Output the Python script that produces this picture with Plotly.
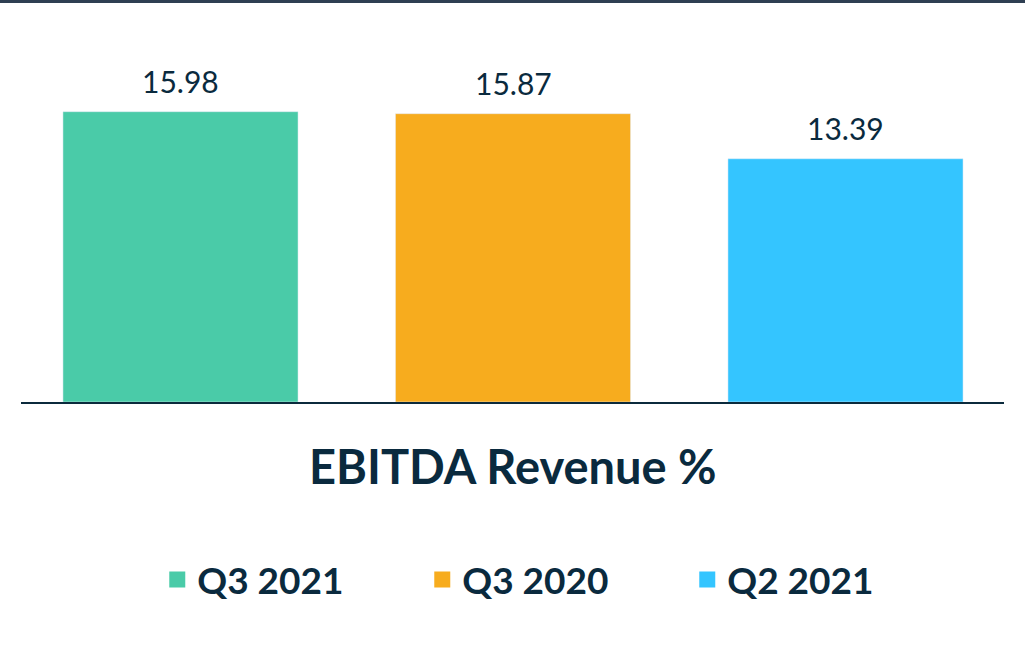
import plotly.graph_objects as go

categories = ["Q3 2021", "Q3 2020", "Q2 2021"]
values = [15.98, 15.87, 13.39]
colors = ["#4ACBA8", "#F7AC1E", "#34C5FF"]
labels = ["15.98", "15.87", "13.39"]
axis_title = "EBITDA Revenue %"

TEXT = "#0A2A3E"
FONT = "Lato"

fig = go.Figure()
for cat, val, col in zip(categories, values, colors):
    fig.add_trace(go.Bar(
        x=[cat], y=[val], name=cat, marker_color=col, width=0.707,
        hoverinfo="skip", showlegend=False,
    ))
# legend entries with larger square swatches
for cat, col in zip(categories, colors):
    fig.add_trace(go.Scatter(
        x=[None], y=[None], mode="markers", name=cat,
        marker=dict(symbol="square", size=21, color=col, line_width=0),
        hoverinfo="skip",
    ))

for cat, val, lab in zip(categories, values, labels):
    fig.add_annotation(x=cat, y=val, text=lab, showarrow=False,
                       yanchor="bottom", yshift=11,
                       font=dict(family=FONT, size=30, color=TEXT))

fig.add_annotation(xref="paper", yref="paper", x=0.5, y=-0.196,
                   text="<b>" + axis_title + "</b>", showarrow=False,
                   yanchor="middle", xanchor="center",
                   font=dict(family=FONT, size=47, color=TEXT))

# top border line
fig.add_shape(type="rect", xref="paper", yref="paper",
              x0=-0.03, x1=1.03, y0=1.220, y1=1.240,
              fillcolor="#2E3F52", line_width=0, layer="above")

fig.update_layout(
    width=1025, height=657,
    margin=dict(l=21, r=21, t=75, b=255),
    paper_bgcolor="white", plot_bgcolor="white",
    barmode="overlay",
    showlegend=True,
    legend=dict(orientation="h", x=0.543, xanchor="center", y=-0.544, yanchor="middle",
                entrywidth=220, entrywidthmode="pixels", itemsizing="trace",
                font=dict(family=FONT, size=37, color=TEXT, weight="bold"),
                itemclick=False, itemdoubleclick=False),
    xaxis=dict(showticklabels=False, ticks="", showgrid=False, zeroline=False,
               showline=True, linecolor="#0B2A3C", linewidth=2,
               range=[-0.4797, 2.4767], fixedrange=True),
    yaxis=dict(visible=False, range=[0, 18], showgrid=False, zeroline=False, fixedrange=True),
)

fig.write_html("out.html", config={"displayModeBar": False},
               post_script="document.body.style.margin='0';document.body.style.overflow='hidden';")
